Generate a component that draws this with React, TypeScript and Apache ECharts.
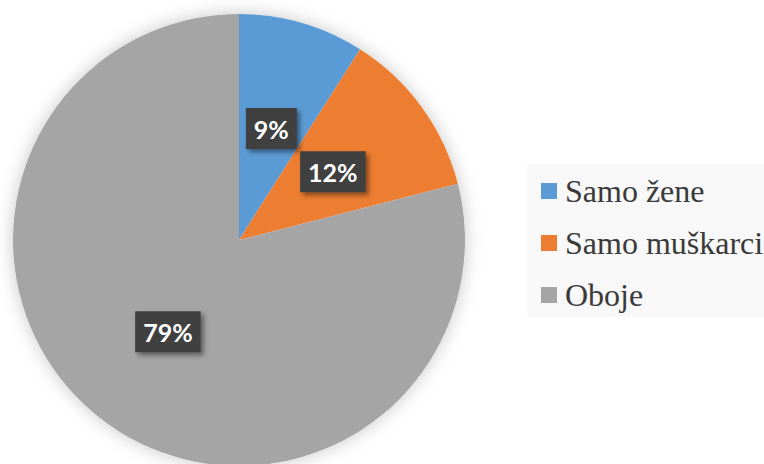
import React, { useEffect, useRef } from "react";
import * as echarts from "echarts";

const categories = ["Samo žene", "Samo muškarci", "Oboje"];
const values = [9, 12, 79];
const colors = ["#5B9BD5", "#ED7D31", "#A5A5A5"];

export default function App() {
  const ref = useRef<HTMLDivElement>(null);
  useEffect(() => {
    document.body.style.margin = "0";
    const chart = echarts.init(ref.current!, undefined, { renderer: "svg" });
    const data = categories.map((name, i) => ({
      name,
      value: values[i],
      itemStyle: { color: colors[i] },
    }));
    chart.setOption({
      animation: false,
      backgroundColor: "#ffffff",
      legend: {
        orient: "vertical",
        left: 527,
        top: 164,
        width: 260,
        backgroundColor: "#f8f8f8",
        padding: [11, 30, 6, 14],
        icon: "rect",
        itemWidth: 16,
        itemHeight: 16,
        itemGap: 20,
        data: categories,
        textStyle: {
          fontFamily: "Liberation Serif",
          fontSize: 32,
          lineHeight: 32,
          color: "#3a3a3a",
          padding: [0, 0, 0, 3],
        },
      },
      series: [
        {
          type: "pie",
          silent: true,
          center: [239, 240],
          radius: 226,
          startAngle: 90,
          label: { show: false },
          labelLine: { show: false },
          itemStyle: {
            color: "#ffffff",
            shadowBlur: 18,
            shadowColor: "rgba(0,0,0,0.22)",
          },
          data: [{ name: "_shadow", value: 1 }],
          legendHoverLink: false,
        },
        {
          type: "pie",
          center: [239, 240],
          radius: 226,
          startAngle: 90,
          clockwise: true,
          data,
          labelLine: { show: false },
          label: {
            show: true,
            position: "inside",
            formatter: (p: any) => p.value + "%",
            color: "#ffffff",
            fontFamily: "Lato",
            fontWeight: "bold",
            fontSize: 25,
            lineHeight: 25,
            backgroundColor: "#404040",
            padding: [8, 8, 8, 8],
            shadowColor: "rgba(0,0,0,0.45)",
            shadowBlur: 5,
            shadowOffsetX: 3,
            shadowOffsetY: 3,
          },
        },
      ],
    });
    return () => chart.dispose();
  }, []);
  return <div ref={ref} style={{ width: 764, height: 464 }} />;
}
